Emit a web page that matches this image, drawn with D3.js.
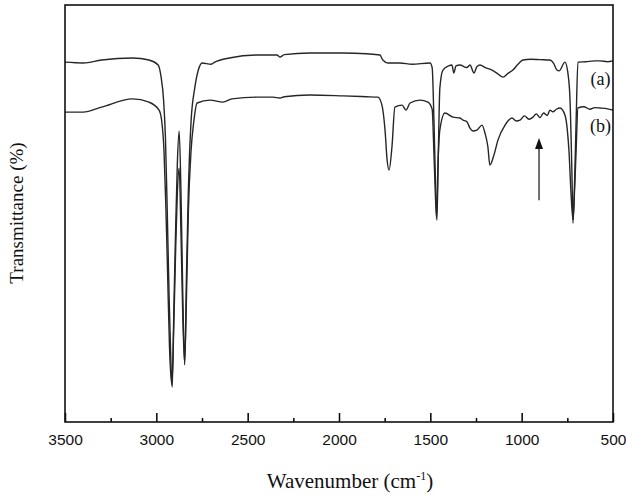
<!DOCTYPE html>
<html>
<head>
<meta charset="utf-8">
<script src="https://cdn.jsdelivr.net/npm/d3@7"></script>
<style>
  html, body { margin: 0; padding: 0; background: #fff; }
  svg { display: block; }
</style>
</head>
<body>
<svg id="ftir-chart" width="626" height="498"></svg>
<script>
// FTIR spectra, wavenumber (cm-1) vs transmittance (arbitrary, %)
const waveA = [3500, 3400, 3300, 3130, 3040, 2990, 2975, 2960, 2950, 2940, 2930, 2920, 2913, 2905, 2895, 2885, 2875, 2865, 2855, 2845, 2835, 2825, 2810, 2790, 2770, 2750, 2700, 2680, 2600, 2449, 2340, 2323, 2300, 2159, 1978, 1850, 1776, 1760, 1732, 1666, 1600, 1502, 1490, 1480, 1472, 1464, 1456, 1448, 1431, 1400, 1382, 1371, 1360, 1338, 1300, 1283, 1261, 1245, 1228, 1200, 1174, 1140, 1102, 1075, 1048, 1020, 993, 950, 900, 845, 825, 807, 795, 763, 748, 736, 725, 719, 710, 702, 692, 650, 600, 571, 530, 500];
const transA = [86.3, 86.1, 86.8, 87.3, 86.8, 85.6, 83.0, 77.0, 68.0, 50.0, 30.0, 14.0, 8.4, 25.0, 45.0, 62.0, 69.8, 55.0, 30.0, 13.7, 35.0, 55.0, 72.0, 80.0, 84.4, 86.1, 85.8, 86.3, 87.3, 88.0, 88.0, 87.5, 88.1, 88.5, 88.5, 88.3, 88.0, 86.8, 86.1, 86.1, 85.8, 86.1, 85.0, 72.0, 58.0, 48.4, 65.0, 80.0, 84.4, 85.4, 85.6, 83.7, 85.4, 85.6, 85.0, 85.6, 83.7, 85.2, 85.6, 85.0, 84.6, 83.8, 82.7, 83.6, 84.4, 85.8, 86.8, 87.0, 86.9, 86.8, 86.0, 84.4, 84.2, 86.3, 84.0, 78.0, 60.0, 47.7, 58.0, 72.0, 86.3, 86.4, 86.6, 86.6, 86.4, 86.6];

const waveB = [3500, 3400, 3300, 3130, 3040, 2985, 2970, 2958, 2948, 2938, 2928, 2915, 2905, 2895, 2885, 2875, 2865, 2855, 2845, 2835, 2825, 2810, 2795, 2777, 2706, 2635, 2586, 2449, 2361, 2323, 2300, 2159, 1978, 1850, 1787, 1765, 1748, 1737, 1726, 1710, 1694, 1655, 1633, 1611, 1557, 1513, 1490, 1480, 1472, 1466, 1458, 1448, 1420, 1376, 1338, 1321, 1300, 1283, 1267, 1245, 1217, 1201, 1185, 1174, 1152, 1130, 1091, 1053, 1030, 1009, 985, 960, 938, 920, 900, 880, 860, 845, 829, 810, 790, 763, 750, 741, 730, 719, 710, 702, 692, 660, 626, 600, 571, 530, 500];
const transB = [74.3, 74.3, 75.5, 77.5, 76.7, 74.8, 72.0, 65.0, 52.0, 35.0, 18.0, 8.9, 22.0, 40.0, 55.0, 60.9, 45.0, 25.0, 14.2, 30.0, 50.0, 65.0, 72.0, 76.5, 77.2, 76.7, 77.5, 77.9, 77.9, 77.7, 78.0, 78.4, 78.2, 78.0, 77.9, 76.0, 70.0, 63.0, 60.4, 66.0, 75.5, 76.0, 74.8, 76.5, 77.2, 76.7, 75.0, 64.0, 54.0, 48.9, 62.0, 70.0, 74.1, 73.1, 72.9, 72.4, 72.0, 70.5, 69.8, 70.0, 71.2, 69.3, 66.0, 61.6, 64.0, 67.6, 71.2, 72.9, 72.2, 72.4, 73.4, 72.6, 73.1, 73.9, 73.0, 74.1, 73.5, 74.8, 74.4, 75.0, 75.3, 73.6, 70.0, 65.0, 55.0, 48.5, 56.0, 65.0, 75.3, 75.6, 75.0, 75.4, 75.3, 75.1, 74.8];

const majorTicks = [3500, 3000, 2500, 2000, 1500, 1000, 500];
const minorTicks = [3250, 2750, 2250, 1750, 1250, 750];

const curveLabels = [
  { text: "(a)", wave: 568, trans: 80.8 },
  { text: "(b)", wave: 568, trans: 69.5 }
];
const arrowMark = { wave: 905, from: 53.2, to: 68.1 };

(function drawSpectra() {
  const svg = d3.select("#ftir-chart");
  const width = 626;
  const height = 498;

  const margin = { top: 5, right: 13, bottom: 76, left: 65 };
  const innerWidth = width - margin.left - margin.right;
  const innerHeight = height - margin.top - margin.bottom;

  const g = svg.append("g")
    .attr("transform", `translate(${margin.left},${margin.top})`);

  const x = d3.scaleLinear()
    .domain([3500, 500])
    .range([0, innerWidth]);

  const y = d3.scaleLinear()
    .domain([0, 100])
    .range([innerHeight, 0]);

  const line = d3.line()
    .x(d => x(d[0]))
    .y(d => y(d[1]))
    .curve(d3.curveMonotoneX);

  const series = [
    d3.zip(waveA, transA),
    d3.zip(waveB, transB)
  ];

  g.selectAll("path.spectrum")
    .data(series)
    .enter()
    .append("path")
    .attr("class", "spectrum")
    .attr("d", line)
    .attr("fill", "none")
    .attr("stroke", "#262626")
    .attr("stroke-width", 1.4)
    .attr("stroke-linejoin", "round");

  // major ticks with labels, pointing inward
  const axisMajor = g.append("g")
    .attr("transform", `translate(0,${innerHeight})`)
    .call(d3.axisBottom(x)
      .tickValues(majorTicks)
      .tickFormat(d3.format("d"))
      .tickSizeInner(-9)
      .tickSizeOuter(0)
      .tickPadding(12));

  axisMajor.select(".domain").remove();
  axisMajor.selectAll("line")
    .attr("stroke", "#000")
    .attr("stroke-width", 1.5);
  axisMajor.selectAll("text")
    .attr("font-family", "'Liberation Sans', Arial, sans-serif")
    .attr("font-size", "15.5px")
    .attr("fill", "#111");

  const axisMinor = g.append("g")
    .attr("transform", `translate(0,${innerHeight})`)
    .call(d3.axisBottom(x)
      .tickValues(minorTicks)
      .tickFormat("")
      .tickSizeInner(-4)
      .tickSizeOuter(0));

  axisMinor.select(".domain").remove();
  axisMinor.selectAll("line")
    .attr("stroke", "#000")
    .attr("stroke-width", 1.5);

  // frame
  g.append("rect")
    .attr("x", 0)
    .attr("y", 0)
    .attr("width", innerWidth)
    .attr("height", innerHeight)
    .attr("fill", "none")
    .attr("stroke", "#111")
    .attr("stroke-width", 1.6);

  // curve labels
  g.selectAll("text.curve-label")
    .data(curveLabels)
    .enter()
    .append("text")
    .attr("class", "curve-label")
    .attr("x", d => x(d.wave))
    .attr("y", d => y(d.trans))
    .attr("text-anchor", "middle")
    .attr("font-family", "'Liberation Serif', 'Times New Roman', serif")
    .attr("font-size", "18px")
    .attr("fill", "#111")
    .text(d => d.text);

  // arrow
  const ax = x(arrowMark.wave);
  const yTail = y(arrowMark.from);
  const yTip = y(arrowMark.to);
  g.append("line")
    .attr("x1", ax)
    .attr("x2", ax)
    .attr("y1", yTail)
    .attr("y2", yTip + 8)
    .attr("stroke", "#111")
    .attr("stroke-width", 1.2);
  g.append("path")
    .attr("d", `M${ax},${yTip} L${ax - 4},${yTip + 11} L${ax + 4},${yTip + 11} Z`)
    .attr("fill", "#111");

  // axis titles
  const xTitle = svg.append("text")
    .attr("x", 350)
    .attr("y", 488)
    .attr("text-anchor", "middle")
    .attr("font-family", "'Liberation Serif', 'Times New Roman', serif")
    .attr("font-size", "21px")
    .attr("fill", "#111");
  xTitle.append("tspan").text("Wavenumber (cm");
  xTitle.append("tspan")
    .attr("dy", -8)
    .attr("font-size", "12px")
    .text("-1");
  xTitle.append("tspan")
    .attr("dy", 8)
    .text(")");

  svg.append("text")
    .attr("transform", `translate(23,213) rotate(-90)`)
    .attr("text-anchor", "middle")
    .attr("font-family", "'Liberation Serif', 'Times New Roman', serif")
    .attr("font-size", "19px")
    .attr("fill", "#111")
    .text("Transmittance (%)");
})();
</script>
</body>
</html>
